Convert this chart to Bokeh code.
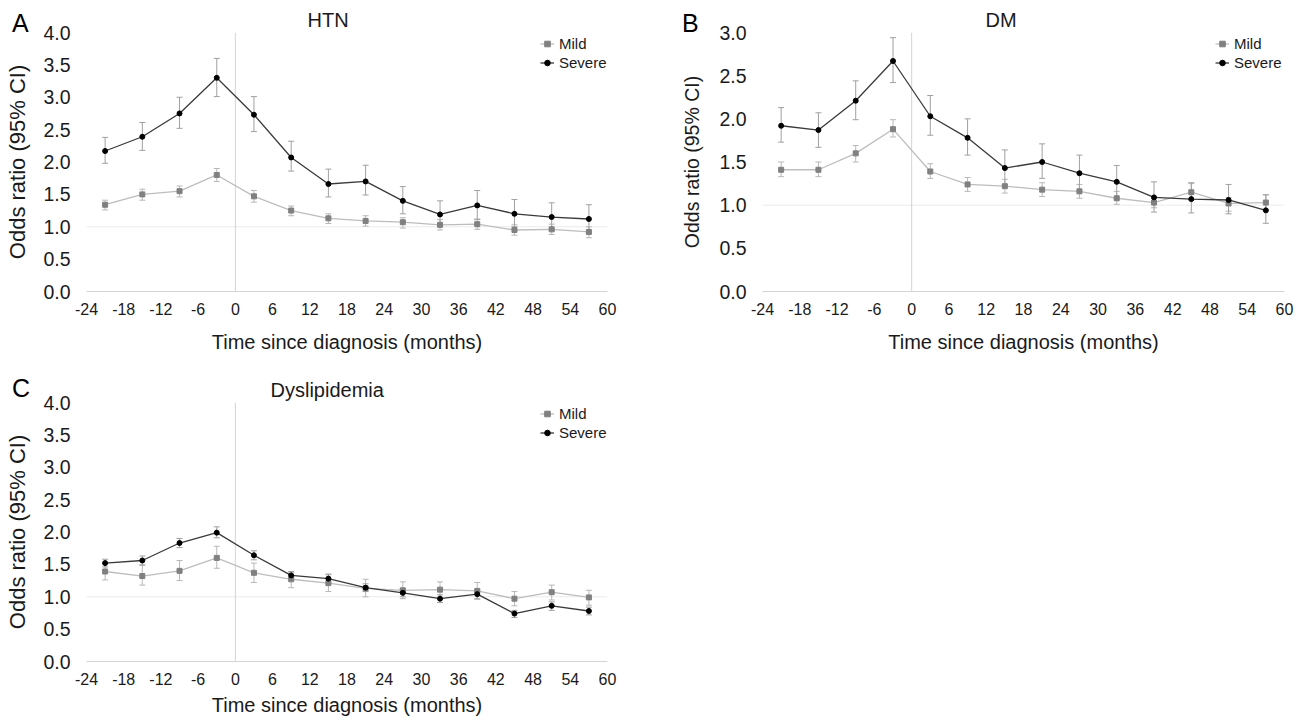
from bokeh.plotting import figure
from bokeh.models import (ColumnDataSource, Whisker, TeeHead, Span, Legend, LegendItem,
                          FixedTicker, NumeralTickFormatter, Range1d, Title, Div)
from bokeh.layouts import column, row
from bokeh.embed import file_html
from bokeh.resources import INLINE

# ---------------- data ----------------
months = [-21, -15, -9, -3, 3, 9, 15, 21, 27, 33, 39, 45, 51, 57]
x_ticks = [-24, -18, -12, -6, 0, 6, 12, 18, 24, 30, 36, 42, 48, 54, 60]
y_ticks_4 = [0.0, 0.5, 1.0, 1.5, 2.0, 2.5, 3.0, 3.5, 4.0]
y_ticks_3 = [0.0, 0.5, 1.0, 1.5, 2.0, 2.5, 3.0]
series_names = ["Mild", "Severe"]
panel_titles = ["HTN", "DM", "Dyslipidemia"]
panel_letters = ["A", "B", "C"]

htn_mild = [1.34, 1.50, 1.55, 1.80, 1.47, 1.25, 1.13, 1.09, 1.07, 1.03, 1.04, 0.95, 0.96, 0.92]
htn_mild_lo = [1.26, 1.41, 1.46, 1.70, 1.38, 1.17, 1.05, 1.01, 0.98, 0.95, 0.96, 0.87, 0.88, 0.83]
htn_mild_hi = [1.41, 1.58, 1.63, 1.90, 1.56, 1.32, 1.20, 1.17, 1.14, 1.11, 1.12, 1.03, 1.04, 1.00]
htn_severe = [2.17, 2.39, 2.75, 3.30, 2.73, 2.07, 1.66, 1.70, 1.40, 1.19, 1.33, 1.20, 1.15, 1.12]
htn_severe_lo = [1.98, 2.18, 2.52, 3.01, 2.47, 1.86, 1.46, 1.49, 1.20, 1.00, 1.11, 1.00, 0.95, 0.90]
htn_severe_hi = [2.38, 2.61, 3.00, 3.60, 3.01, 2.32, 1.89, 1.95, 1.62, 1.40, 1.56, 1.42, 1.37, 1.34]

dm_mild = [1.41, 1.41, 1.60, 1.88, 1.39, 1.24, 1.22, 1.18, 1.16, 1.08, 1.03, 1.15, 1.02, 1.03]
dm_mild_lo = [1.33, 1.33, 1.50, 1.79, 1.31, 1.16, 1.14, 1.10, 1.08, 1.01, 0.97, 1.06, 0.93, 0.94]
dm_mild_hi = [1.50, 1.50, 1.69, 1.99, 1.48, 1.32, 1.30, 1.26, 1.24, 1.16, 1.10, 1.25, 1.09, 1.12]
dm_severe = [1.92, 1.87, 2.21, 2.67, 2.03, 1.78, 1.43, 1.50, 1.37, 1.27, 1.09, 1.07, 1.06, 0.94]
dm_severe_lo = [1.73, 1.67, 1.99, 2.42, 1.81, 1.58, 1.23, 1.31, 1.17, 1.07, 0.92, 0.91, 0.90, 0.79]
dm_severe_hi = [2.13, 2.07, 2.44, 2.94, 2.27, 2.00, 1.64, 1.71, 1.58, 1.46, 1.27, 1.26, 1.24, 1.12]

dys_mild = [1.39, 1.32, 1.40, 1.60, 1.37, 1.27, 1.21, 1.13, 1.10, 1.11, 1.09, 0.97, 1.07, 0.99]
dys_mild_lo = [1.26, 1.18, 1.25, 1.44, 1.22, 1.14, 1.08, 1.00, 0.97, 0.97, 0.96, 0.86, 0.95, 0.87]
dys_mild_hi = [1.51, 1.49, 1.56, 1.78, 1.52, 1.38, 1.34, 1.27, 1.23, 1.23, 1.22, 1.08, 1.18, 1.10]
dys_severe = [1.52, 1.56, 1.83, 1.99, 1.64, 1.33, 1.28, 1.14, 1.06, 0.97, 1.04, 0.74, 0.86, 0.78]
dys_severe_lo = [1.46, 1.49, 1.76, 1.91, 1.57, 1.27, 1.21, 1.08, 1.00, 0.91, 0.97, 0.68, 0.79, 0.72]
dys_severe_hi = [1.58, 1.63, 1.90, 2.08, 1.71, 1.39, 1.35, 1.20, 1.12, 1.03, 1.10, 0.79, 0.92, 0.84]

FONT = "Liberation Sans"
TXT = "#1a1a1a"


def make_panel(title, yticks, mild, mild_lo, mild_hi, sev, sev_lo, sev_hi,
               bl, br, bt, bb, fw, fh, ylabel_size, ytick_standoff, ylabel_standoff,
               xlabel_standoff, title_offset, legend_dx):
    ttl = Title(text=title, align="left", offset=title_offset, vertical_align="bottom", standoff=4,
                text_font=FONT, text_font_size="20px", text_font_style="normal", text_color=TXT)
    p = figure(frame_width=fw, frame_height=fh, output_backend="svg", toolbar_location=None,
               x_range=Range1d(x_ticks[0], x_ticks[-1]), y_range=Range1d(yticks[0], yticks[-1]),
               min_border_left=bl, min_border_right=br, min_border_top=bt, min_border_bottom=bb,
               title=ttl)
    p.outline_line_color = None
    p.xgrid.visible = False
    p.ygrid.visible = False
    p.background_fill_color = "white"

    # reference lines
    p.add_layout(Span(location=1.0, dimension="width", line_color="#ebebeb", line_width=1, level="underlay"))
    p.add_layout(Span(location=0, dimension="height", line_color="#d4d4d4", line_width=1, level="underlay"))

    src_m = ColumnDataSource(dict(x=months, y=mild, lo=mild_lo, hi=mild_hi))
    src_s = ColumnDataSource(dict(x=months, y=sev, lo=sev_lo, hi=sev_hi))

    for src, col in ((src_m, "#b8b8b8"), (src_s, "#a0a0a0")):
        w = Whisker(base="x", upper="hi", lower="lo", source=src, line_color=col, line_width=1,
                    upper_head=TeeHead(size=6, line_color=col, line_width=1),
                    lower_head=TeeHead(size=6, line_color=col, line_width=1), level="underlay")
        p.add_layout(w)

    lm = p.line("x", "y", source=src_m, line_color="#bdbdbd", line_width=1.3)
    sm = p.scatter("x", "y", source=src_m, marker="square", size=5, fill_color="#808080", line_color="#808080")
    ls = p.line("x", "y", source=src_s, line_color="#3a3a3a", line_width=1.3)
    ss = p.scatter("x", "y", source=src_s, marker="circle", size=5, fill_color="black", line_color="black")

    legend = Legend(items=[LegendItem(label=series_names[0], renderers=[lm, sm]),
                           LegendItem(label=series_names[1], renderers=[ls, ss])],
                    location=(legend_dx, fh - 39.5), orientation="vertical",
                    label_text_font=FONT, label_text_font_size="15px", label_text_color=TXT,
                    glyph_width=14, glyph_height=19, label_height=19, label_standoff=5,
                    spacing=0, padding=0, margin=0,
                    border_line_color=None, background_fill_alpha=0)
    p.add_layout(legend, "center")

    # axes
    p.xaxis.ticker = FixedTicker(ticks=x_ticks)
    p.xaxis.major_label_overrides = {t: str(t) for t in x_ticks}
    p.yaxis.ticker = FixedTicker(ticks=yticks)
    p.yaxis.formatter = NumeralTickFormatter(format="0.0")
    for ax in (p.xaxis, p.yaxis):
        ax.major_tick_in = 0
        ax.major_tick_out = 0
        ax.minor_tick_in = 0
        ax.minor_tick_out = 0
        ax.major_label_text_font = FONT
        ax.major_label_text_color = TXT
        ax.axis_label_text_font = FONT
        ax.axis_label_text_color = TXT
        ax.axis_label_text_font_style = "normal"
    p.xaxis.axis_line_color = "#d4d4d4"
    p.yaxis.axis_line_color = None
    p.xaxis.major_label_text_font_size = "16px"
    p.yaxis.major_label_text_font_size = "19.5px"
    p.xaxis.major_label_standoff = 11
    p.yaxis.major_label_standoff = ytick_standoff
    p.xaxis.axis_label = "Time since diagnosis (months)"
    p.xaxis.axis_label_text_font_size = "20px"
    p.xaxis.axis_label_standoff = xlabel_standoff
    p.yaxis.axis_label = "Odds ratio (95% CI)"
    p.yaxis.axis_label_text_font_size = ylabel_size
    p.yaxis.axis_label_standoff = ylabel_standoff
    return p


def letter_div(ch, left, top):
    html = ('<span style="font-family:\'Liberation Sans\',Arial,sans-serif;font-size:25px;'
            'line-height:25px;color:#000000;white-space:nowrap;">%s</span>' % ch)
    return Div(text=html, width=30, height=30,
               styles={"position": "absolute", "left": "%dpx" % left, "top": "%dpx" % top,
                       "z-index": "10", "margin": "0", "padding": "0"})


pA = make_panel(panel_titles[0], y_ticks_4,
                htn_mild, htn_mild_lo, htn_mild_hi, htn_severe, htn_severe_lo, htn_severe_hi,
                bl=86, br=51, bt=32, bb=79, fw=521, fh=259, ylabel_size="22px", ytick_standoff=16,
                ylabel_standoff=10, xlabel_standoff=13, title_offset=221, legend_dx=454)
pB = make_panel(panel_titles[1], y_ticks_3,
                dm_mild, dm_mild_lo, dm_mild_hi, dm_severe, dm_severe_lo, dm_severe_hi,
                bl=104, br=15, bt=32, bb=79, fw=522, fh=259, ylabel_size="19.5px", ytick_standoff=16,
                ylabel_standoff=13, xlabel_standoff=13, title_offset=223, legend_dx=453)
pC = make_panel(panel_titles[2], y_ticks_4,
                dys_mild, dys_mild_lo, dys_mild_hi, dys_severe, dys_severe_lo, dys_severe_hi,
                bl=86, br=51, bt=32, bb=61, fw=521, fh=259, ylabel_size="22px", ytick_standoff=16,
                ylabel_standoff=10, xlabel_standoff=6, title_offset=184, legend_dx=454)

dA = letter_div(panel_letters[0], 12, 11)
dB = letter_div(panel_letters[1], 682, 11)
dC = letter_div(panel_letters[2], 12, 376)

layout = column(row(pA, pB), pC, dA, dB, dC)
open("out.html", "w").write(file_html(layout, INLINE))
